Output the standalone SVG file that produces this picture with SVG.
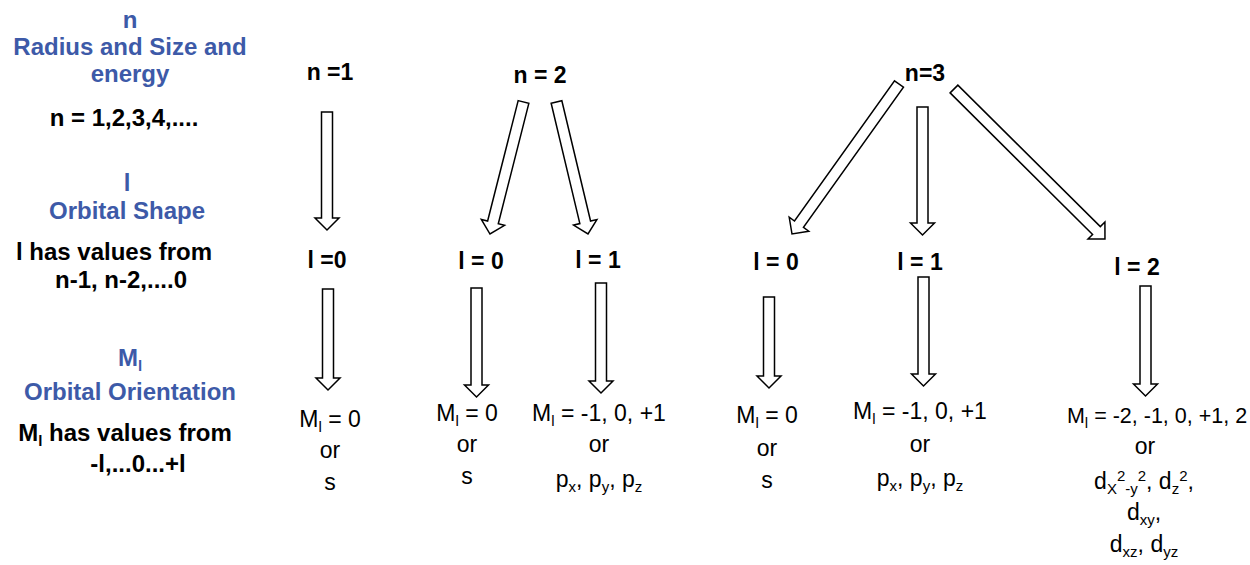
<svg xmlns="http://www.w3.org/2000/svg" width="1250" height="565" viewBox="0 0 1250 565">
<style>
text{font-family:"Liberation Sans",Arial,sans-serif;text-anchor:middle}
.blue{fill:#3D5AA8;font-weight:bold;font-size:24px}
.lb{fill:#000;font-weight:bold;font-size:24px}
.tb{fill:#000;font-weight:bold;font-size:23px}
.tr{fill:#000;font-size:23px}
.sub{font-size:15px}
.arr path{fill:#fff;stroke:#000;stroke-width:1.5;stroke-linejoin:miter}
</style>
<rect width="1250" height="565" fill="#fff"/>
<g id="legend">
<text class="blue" x="130" y="28">n</text>
<text class="blue" x="130" y="55">Radius and Size and</text>
<text class="blue" x="130" y="82">energy</text>
<text class="lb" x="124" y="126">n = 1,2,3,4,....</text>
<text class="blue" x="127" y="191">l</text>
<text class="blue" x="127" y="219">Orbital Shape</text>
<text class="lb" x="114" y="260">l has values from</text>
<text class="lb" x="121" y="288">n-1, n-2,....0</text>
<text class="blue" x="130" y="366">M<tspan class="sub" dy="5">l</tspan></text>
<text class="blue" x="130" y="400">Orbital Orientation</text>
<text class="lb" x="125" y="441">M<tspan class="sub" dy="5">l</tspan><tspan dy="-5"> has values from</tspan></text>
<text class="lb" x="138" y="472">-l,...0...+l</text>
</g>
<g id="n1">
<text class="tb" x="330" y="80">n =1</text>
</g>
<g id="n2">
<text class="tb" x="540" y="83">n = 2</text>
</g>
<g id="n3">
<text class="tb" x="925" y="81">n=3</text>
</g>
<g id="n1-l0">
<text class="tb" x="327" y="268">l =0</text>
</g>
<g id="n2-l0">
<text class="tb" x="481" y="269">l = 0</text>
</g>
<g id="n2-l1">
<text class="tb" x="598" y="268">l = 1</text>
</g>
<g id="n3-l0">
<text class="tb" x="776" y="270">l = 0</text>
</g>
<g id="n3-l1">
<text class="tb" x="920" y="270">l = 1</text>
</g>
<g id="n3-l2">
<text class="tb" x="1137" y="275">l = 2</text>
</g>
<g id="n1-l0-ml">
<text class="tr" x="330" y="427">M<tspan class="sub" dy="5">l</tspan><tspan dy="-5"> = 0</tspan></text>
<text class="tr" x="330" y="458">or</text>
<text class="tr" x="330" y="490">s</text>
</g>
<g id="n2-l0-ml">
<text class="tr" x="467" y="421">M<tspan class="sub" dy="5">l</tspan><tspan dy="-5"> = 0</tspan></text>
<text class="tr" x="467" y="452">or</text>
<text class="tr" x="467" y="484">s</text>
</g>
<g id="n2-l1-ml">
<text class="tr" x="599" y="421">M<tspan class="sub" dy="5">l</tspan><tspan dy="-5"> = -1, 0, +1</tspan></text>
<text class="tr" x="599" y="452">or</text>
<text class="tr" x="599" y="487">p<tspan class="sub" dy="5">x</tspan><tspan dy="-5">, p</tspan><tspan class="sub" dy="5">y</tspan><tspan dy="-5">, p</tspan><tspan class="sub" dy="5">z</tspan></text>
</g>
<g id="n3-l0-ml">
<text class="tr" x="767" y="423">M<tspan class="sub" dy="5">l</tspan><tspan dy="-5"> = 0</tspan></text>
<text class="tr" x="767" y="456">or</text>
<text class="tr" x="767" y="488">s</text>
</g>
<g id="n3-l1-ml">
<text class="tr" x="920" y="419">M<tspan class="sub" dy="5">l</tspan><tspan dy="-5"> = -1, 0, +1</tspan></text>
<text class="tr" x="920" y="452">or</text>
<text class="tr" x="920" y="486">p<tspan class="sub" dy="5">x</tspan><tspan dy="-5">, p</tspan><tspan class="sub" dy="5">y</tspan><tspan dy="-5">, p</tspan><tspan class="sub" dy="5">z</tspan></text>
</g>
<g id="n3-l2-ml">
<text class="tr" x="1157" y="423" style="font-size:21.5px">M<tspan class="sub" dy="5">l</tspan><tspan dy="-5"> = -2, -1, 0, +1, 2</tspan></text>
<text class="tr" x="1145" y="454">or</text>
<text class="tr" x="1144" y="489">d<tspan class="sub" dy="5">X</tspan><tspan class="sub" dy="-13">2</tspan><tspan class="sub" dy="13">-y</tspan><tspan class="sub" dy="-13">2</tspan><tspan dy="8">, d</tspan><tspan class="sub" dy="5">z</tspan><tspan class="sub" dy="-13">2</tspan><tspan dy="8">,</tspan></text>
<text class="tr" x="1144" y="520">d<tspan class="sub" dy="5">xy</tspan><tspan dy="-5">,</tspan></text>
<text class="tr" x="1144" y="552">d<tspan class="sub" dy="5">xz</tspan><tspan dy="-5">, d</tspan><tspan class="sub" dy="5">yz</tspan></text>
</g>
<g id="connectors" class="arr">
<g transform="translate(327,112)"><path d="M-5.5,0H5.5V106H12L0,118L-12,106H-5.5Z"/></g>
<g transform="translate(328,289)"><path d="M-5.5,0H5.5V89H12L0,101L-12,89H-5.5Z"/></g>
<g transform="translate(523.5,102) rotate(14.24)"><path d="M-5.5,0H5.5V124.2H12L0,136.2L-12,124.2H-5.5Z"/></g>
<g transform="translate(556.5,102) rotate(-13.42)"><path d="M-5.5,0H5.5V123.7H12L0,135.7L-12,123.7H-5.5Z"/></g>
<g transform="translate(476.5,288)"><path d="M-5.5,0H5.5V97H12L0,109L-12,97H-5.5Z"/></g>
<g transform="translate(601,283)"><path d="M-5.5,0H5.5V98H12L0,110L-12,98H-5.5Z"/></g>
<g transform="translate(899,84) rotate(35.5)"><path d="M-5.5,0H5.5V172.25H12L0,184.25L-12,172.25H-5.5Z"/></g>
<g transform="translate(922.5,107)"><path d="M-5.5,0H5.5V116H12L0,128L-12,116H-5.5Z"/></g>
<g transform="translate(954,89) rotate(-45.19)"><path d="M-5.5,0H5.5V200.8H12L0,212.8L-12,200.8H-5.5Z"/></g>
<g transform="translate(769,297)"><path d="M-5.5,0H5.5V79H12L0,91L-12,79H-5.5Z"/></g>
<g transform="translate(923.5,277)"><path d="M-5.5,0H5.5V97H12L0,109L-12,97H-5.5Z"/></g>
<g transform="translate(1145.5,286)"><path d="M-5.5,0H5.5V98H12L0,110L-12,98H-5.5Z"/></g>
</g>
</svg>
